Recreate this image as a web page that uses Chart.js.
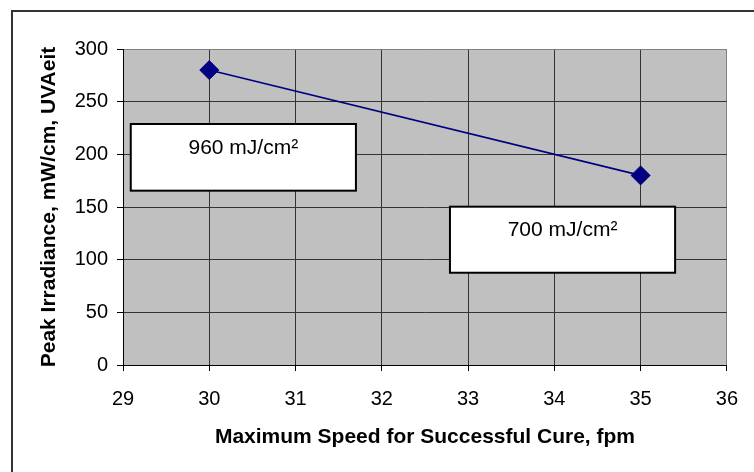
<!DOCTYPE html>
<html>
<head>
<meta charset="utf-8">
<script src="https://cdn.jsdelivr.net/npm/chart.js@4"></script>
<style>
  html, body { margin: 0; padding: 0; background: #fff; }
  #wrap { width: 754px; height: 472px; }
</style>
</head>
<body>
<div id="wrap"><canvas id="speedChart"></canvas></div>
<script>
// Chart data
const speeds = [30, 35];
const irradiance = [280, 180];
const doseLabels = ['960 mJ/cm²', '700 mJ/cm²'];
const xTicks = [29, 30, 31, 32, 33, 34, 35, 36];
const yTicks = [0, 50, 100, 150, 200, 250, 300];

const FONT = "'Liberation Sans', Arial, sans-serif";

// grey plot area + outer frame + text boxes
const excelLook = {
    id: 'excelLook',
    beforeDraw(chart) {
        const {ctx, chartArea: a} = chart;
        ctx.save();
        ctx.fillStyle = '#C0C0C0';
        ctx.fillRect(a.left, a.top, a.right - a.left, a.bottom - a.top);
        ctx.restore();
    },
    afterDraw(chart, args, opts) {
        const {ctx, scales: {x, y}} = chart;
        ctx.save();
        ctx.strokeStyle = '#333';
        ctx.lineWidth = 2;
        ctx.strokeRect(12, 11, chart.width, chart.height);

        opts.boxes.forEach((b, i) => {
            const l = x.getPixelForValue(b.x0), r = x.getPixelForValue(b.x1);
            const t = y.getPixelForValue(b.y1), btm = y.getPixelForValue(b.y0);
            ctx.fillStyle = '#fff';
            ctx.fillRect(l, t, r - l, btm - t);
            ctx.strokeStyle = '#000';
            ctx.lineWidth = 2;
            ctx.strokeRect(l, t, r - l, btm - t);
            ctx.fillStyle = '#000';
            ctx.font = '21px ' + FONT;
            ctx.textAlign = 'center';
            ctx.textBaseline = 'middle';
            ctx.fillText(doseLabels[i], (l + r) / 2, t + 24);
        });
        ctx.restore();
    }
};

const ctxEl = document.getElementById('speedChart');
new Chart(ctxEl, {
    type: 'scatter',
    data: {
        datasets: [{
            data: speeds.map((s, i) => ({x: s, y: irradiance[i]})),
            showLine: true,
            borderColor: '#000080',
            borderWidth: 1.6,
            backgroundColor: '#000080',
            pointStyle: 'rectRot',
            pointRadius: 9.5,
            pointBorderWidth: 1,
            pointHoverRadius: 9.5
        }]
    },
    options: {
        responsive: true,
        maintainAspectRatio: false,
        animation: false,
        events: [],
        layout: { padding: { left: 0, top: 49, right: 27, bottom: 0 } },
        plugins: {
            legend: { display: false },
            tooltip: { enabled: false },
            excelLook: {
                boxes: [
                    {x0: 29.09, x1: 31.7, y0: 165.5, y1: 228.8},
                    {x0: 32.79, x1: 35.4, y0: 87.6, y1: 150.3}
                ]
            }
        },
        scales: {
            x: {
                type: 'linear',
                min: 29,
                max: 36,
                afterBuildTicks: s => { s.ticks = xTicks.map(v => ({value: v})); },
                afterFit: s => { s.height = 107; },
                ticks: { color: '#000', font: { family: FONT, size: 20 }, padding: 16 },
                grid: {
                    color: c => c.tick && c.tick.value === 36 ? '#808080' : '#333',
                    tickColor: '#000',
                    tickLength: 6,
                    lineWidth: 1
                },
                border: { color: '#000', width: 1 },
                title: {
                    display: true,
                    text: 'Maximum Speed for Successful Cure, fpm',
                    color: '#000',
                    font: { family: FONT, size: 21, weight: 'bold' },
                    padding: { top: 0, bottom: 22 }
                }
            },
            y: {
                min: 0,
                max: 300,
                afterBuildTicks: s => { s.ticks = yTicks.map(v => ({value: v})); },
                afterFit: s => { s.width = 123; },
                ticks: { color: '#000', font: { family: FONT, size: 20 }, padding: 9 },
                grid: {
                    color: c => c.tick && c.tick.value === 300 ? '#808080' : '#333',
                    tickColor: '#000',
                    tickLength: 6,
                    lineWidth: 1
                },
                border: { color: '#000', width: 1 },
                title: {
                    display: true,
                    text: 'Peak Irradiance, mW/cm, UVAeit',
                    color: '#000',
                    font: { family: FONT, size: 21, weight: 'bold' },
                    padding: { top: 37, bottom: 0 }
                }
            }
        }
    },
    plugins: [excelLook]
});
</script>
</body>
</html>
